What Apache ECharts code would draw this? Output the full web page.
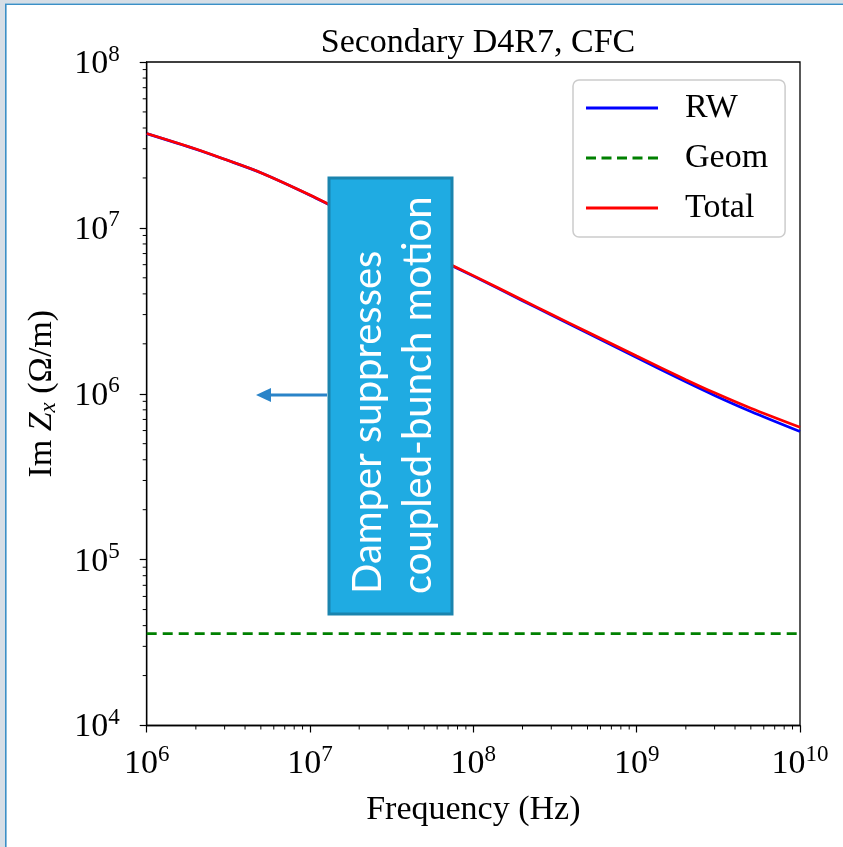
<!DOCTYPE html>
<html>
<head>
<meta charset="utf-8">
<script src="https://cdn.jsdelivr.net/npm/echarts@6.0.0/dist/echarts.min.js"></script>
<style>
html,body{margin:0;padding:0;background:#fff;}
#chart{width:843px;height:847px;}
</style>
</head>
<body>
<div id="chart"></div>
<script>
// ---- data ----
const freq = [1e6, 2e6, 3e6, 5e6, 1e7, 2e7, 3e7, 5e7, 1e8, 2e8, 3e8, 5e8, 1e9, 2e9, 3e9, 5e9, 1e10];
const rwValues = [3.70e7, 2.98e7, 2.59e7, 2.15e7, 1.574e7, 1.12e7, 9.17e6, 7.13e6, 5.12e6, 3.64e6, 2.98e6, 2.32e6, 1.652e6, 1.180e6, 9.77e5, 7.82e5, 5.92e5];
const totalValues = [3.71e7, 2.99e7, 2.594e7, 2.153e7, 1.578e7, 1.12e7, 9.21e6, 7.17e6, 5.156e6, 3.676e6, 3.016e6, 2.356e6, 1.688e6, 1.216e6, 1.013e6, 8.18e5, 6.28e5];
const geomFreq = [1e6, 1e10];
const geomValues = [3.58e4, 3.58e4];
const seriesNames = ['RW', 'Geom', 'Total'];
const xTicks = [1e6, 1e7, 1e8, 1e9, 1e10];
const yTicks = [1e4, 1e5, 1e6, 1e7, 1e8];
const xMinorTicks = [2e6,3e6,4e6,5e6,6e6,7e6,8e6,9e6, 2e7,3e7,4e7,5e7,6e7,7e7,8e7,9e7, 2e8,3e8,4e8,5e8,6e8,7e8,8e8,9e8, 2e9,3e9,4e9,5e9,6e9,7e9,8e9,9e9];
const yMinorTicks = [2e4,3e4,4e4,5e4,6e4,7e4,8e4,9e4, 2e5,3e5,4e5,5e5,6e5,7e5,8e5,9e5, 2e6,3e6,4e6,5e6,6e6,7e6,8e6,9e6, 2e7,3e7,4e7,5e7,6e7,7e7,8e7,9e7];
const titleText = 'Secondary D4R7, CFC';
const xName = 'Frequency (Hz)';
const annotationLines = ['Damper suppresses', 'coupled-bunch motion'];

const SERIF = '"Liberation Serif", "DejaVu Serif", serif';
const FS = 34;
const zip = (xs, ys) => xs.map((x, i) => [x, ys[i]]);
const expLabel = v => '{b|10}{s|' + Math.round(Math.log10(v)) + '}';
const labelRich = {
  b: {fontFamily: SERIF, fontSize: 34, color: '#000', lineHeight: 38, verticalAlign: 'bottom'},
  s: {fontFamily: SERIF, fontSize: 23, color: '#000', lineHeight: 23, verticalAlign: 'top'}
};
// legend line icons (solid / dashed)
const solidIcon = 'path://M0,0h72v3h-72z';
const dashedIcon = 'path://M0,0h10v3h-10z M15.5,0h10v3h-10z M31,0h10v3h-10z M46.5,0h10v3h-10z M62,0h10v3h-10z';

const chart = echarts.init(document.getElementById('chart'));
const gridL = 146.7, gridT = 62, gridR = 843 - 800, gridB = 847 - 725.5;

function minorTickSeries(data, dir) {
  return {
    type: 'custom', silent: true, clip: false, z: 5,
    data: data,
    renderItem: function (params, api) {
      const p = api.coord([api.value(0), api.value(1)]);
      const shape = dir === 'x'
        ? {x1: p[0], y1: p[1], x2: p[0], y2: p[1] + 4}
        : {x1: p[0], y1: p[1], x2: p[0] - 4, y2: p[1]};
      return {type: 'line', shape: shape, style: {stroke: '#000', lineWidth: 1}};
    }
  };
}

chart.setOption({
  animation: false,
  backgroundColor: '#fff',
  title: {
    text: titleText, left: 473, top: 21, textAlign: 'center',
    textStyle: {fontFamily: SERIF, fontSize: FS, fontWeight: 'normal', color: '#000'}
  },
  legend: {
    data: [
      {name: seriesNames[0], icon: solidIcon},
      {name: seriesNames[1], icon: dashedIcon},
      {name: seriesNames[2], icon: solidIcon}
    ],
    orient: 'vertical', left: 573, top: 80,
    itemWidth: 72, itemHeight: 3, itemGap: 16,
    padding: [11, 17, 12, 13],
    backgroundColor: '#fff', borderColor: '#cccccc', borderWidth: 1.5, borderRadius: 6,
    textStyle: {fontFamily: SERIF, fontSize: FS, lineHeight: 34, color: '#000', padding: [0, 0, 0, 22]}
  },
  grid: {left: gridL, top: gridT, right: gridR, bottom: gridB, show: true, borderColor: '#000', borderWidth: 1.3, containLabel: false},
  xAxis: {
    type: 'log', logBase: 10, min: xTicks[0], max: xTicks[xTicks.length - 1], interval: 1,
    name: xName, nameLocation: 'middle', nameGap: 68,
    nameTextStyle: {fontFamily: SERIF, fontSize: FS, color: '#000'},
    axisLine: {show: true, lineStyle: {color: '#000', width: 1.3}},
    axisTick: {show: true, inside: false, length: 7, lineStyle: {color: '#000', width: 1.2}},
    axisLabel: {margin: 18, formatter: expLabel, rich: labelRich},
    splitLine: {show: false}
  },
  yAxis: {
    type: 'log', logBase: 10, min: yTicks[0], max: yTicks[yTicks.length - 1], interval: 1,
    name: '{a|Im }{i|Z}{sub|x}{a| (Ω/m)}', nameLocation: 'middle', nameGap: 86, nameRotate: 90,
    nameTextStyle: {
      rich: {
        a: {fontFamily: SERIF, fontSize: FS, color: '#000', lineHeight: 38},
        i: {fontFamily: SERIF, fontSize: FS, fontStyle: 'italic', color: '#000', lineHeight: 38},
        sub: {fontFamily: SERIF, fontSize: 23, fontStyle: 'italic', color: '#000', lineHeight: 20, verticalAlign: 'bottom', padding: [10, 0, 0, 0]}
      }
    },
    axisLine: {show: true, lineStyle: {color: '#000', width: 1.3}},
    axisTick: {show: true, inside: false, length: 7, lineStyle: {color: '#000', width: 1.2}},
    axisLabel: {margin: 27, formatter: expLabel, rich: labelRich},
    splitLine: {show: false}
  },
  series: [
    {name: seriesNames[0], type: 'line', data: zip(freq, rwValues), symbol: 'none', smooth: 0.3,
     lineStyle: {color: '#0000ff', width: 2.7}, itemStyle: {color: '#0000ff'}, z: 2},
    {name: seriesNames[1], type: 'line', data: zip(geomFreq, geomValues), symbol: 'none',
     lineStyle: {color: '#008000', width: 2.6, type: [10, 6]}, itemStyle: {color: '#008000'}, z: 2},
    {name: seriesNames[2], type: 'line', data: zip(freq, totalValues), symbol: 'none', smooth: 0.3,
     lineStyle: {color: '#ff0000', width: 2.7}, itemStyle: {color: '#ff0000'}, z: 3},
    minorTickSeries(xMinorTicks.map(v => [v, yTicks[0]]), 'x'),
    minorTickSeries(yMinorTicks.map(v => [xTicks[0], v]), 'y')
  ],
  graphic: [
    // slide frame
    {type: 'rect', shape: {x: 0, y: 0, width: 5, height: 847}, style: {fill: '#d6dee6'}, z: 100},
    {type: 'rect', shape: {x: 0, y: 0, width: 843, height: 3.5}, style: {fill: '#d6dee6'}, z: 100},
    {type: 'line', shape: {x1: 5.8, y1: 4, x2: 5.8, y2: 847}, style: {stroke: '#3b8fc6', lineWidth: 1.6}, z: 101},
    {type: 'line', shape: {x1: 5, y1: 4.3, x2: 843, y2: 4.3}, style: {stroke: '#3b8fc6', lineWidth: 1.6}, z: 101},
    // annotation box
    {type: 'rect', shape: {x: 329, y: 178, width: 123, height: 436}, style: {fill: '#1fabe2', stroke: '#1a84ae', lineWidth: 3}, z: 110},
    {type: 'text', x: 393, y: 594, rotation: Math.PI / 2, z: 111,
     style: {text: annotationLines.join('\n'), fill: '#ffffff', fontFamily: 'Lato, "Open Sans", sans-serif', fontSize: 40, lineHeight: 50, align: 'left', verticalAlign: 'middle'}},
    // arrow
    {type: 'line', shape: {x1: 327, y1: 395, x2: 266, y2: 395}, style: {stroke: '#2a84c8', lineWidth: 3}, z: 110},
    {type: 'polygon', shape: {points: [[256, 395], [271, 388], [271, 402]]}, style: {fill: '#2a84c8'}, z: 110}
  ]
});
</script>
</body>
</html>
